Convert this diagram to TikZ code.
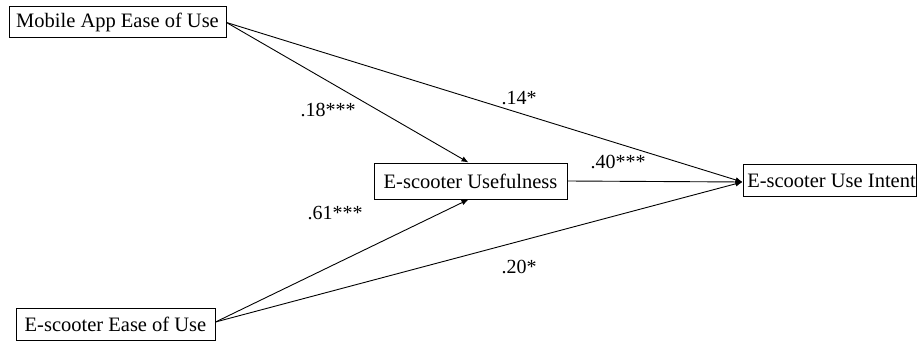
\documentclass[tikz,border=0pt]{standalone}
\usepackage{fontspec}
\setmainfont{Liberation Serif}
\usetikzlibrary{arrows.meta}
\begin{document}
\begin{tikzpicture}[x=1pt,y=-1pt,
  box/.style={draw,line width=1pt,inner sep=0pt,font=\fontsize{20.5}{23}\selectfont},
  lbl/.style={inner sep=0pt,font=\fontsize{20}{23}\selectfont},
  conn/.style={line width=0.9pt,-{Latex[length=7pt,width=5.5pt]}}]
\useasboundingbox (0,0) rectangle (918,342);
\node[box,minimum width=217pt,minimum height=31pt] (m) at (117.5,22.5) {Mobile App Ease of Use};
\node[box,minimum width=193pt,minimum height=36pt] (u) at (470.5,181) {E-scooter Usefulness};
\node[box,minimum width=173pt,minimum height=32pt] (i) at (829.5,180.5) {\hspace*{4pt}E-scooter Use Intent};
\node[box,minimum width=199pt,minimum height=32pt] (e) at (115.5,324) {E-scooter Ease of Use};
\draw[conn] (m.east) -- ([xshift=-2pt]u.north);
\draw[conn] (m.east) -- ([yshift=-1.5pt]i.west);
\draw[conn] (u.east) -- ([yshift=-1.5pt]i.west);
\draw[conn] ([yshift=2pt]e.east) -- ([xshift=-2pt]u.south);
\draw[conn] ([yshift=2pt]e.east) -- ([yshift=-1.5pt]i.west);
\node[lbl] (l1) at (328,110) {.18***};
\node[lbl] (l2) at (519,98) {.14*};
\node[lbl] (l3) at (618,162) {.40***};
\node[lbl] (l4) at (335,213) {.61***};
\node[lbl] (l5) at (519,267) {.20*};
\end{tikzpicture}
\end{document}
